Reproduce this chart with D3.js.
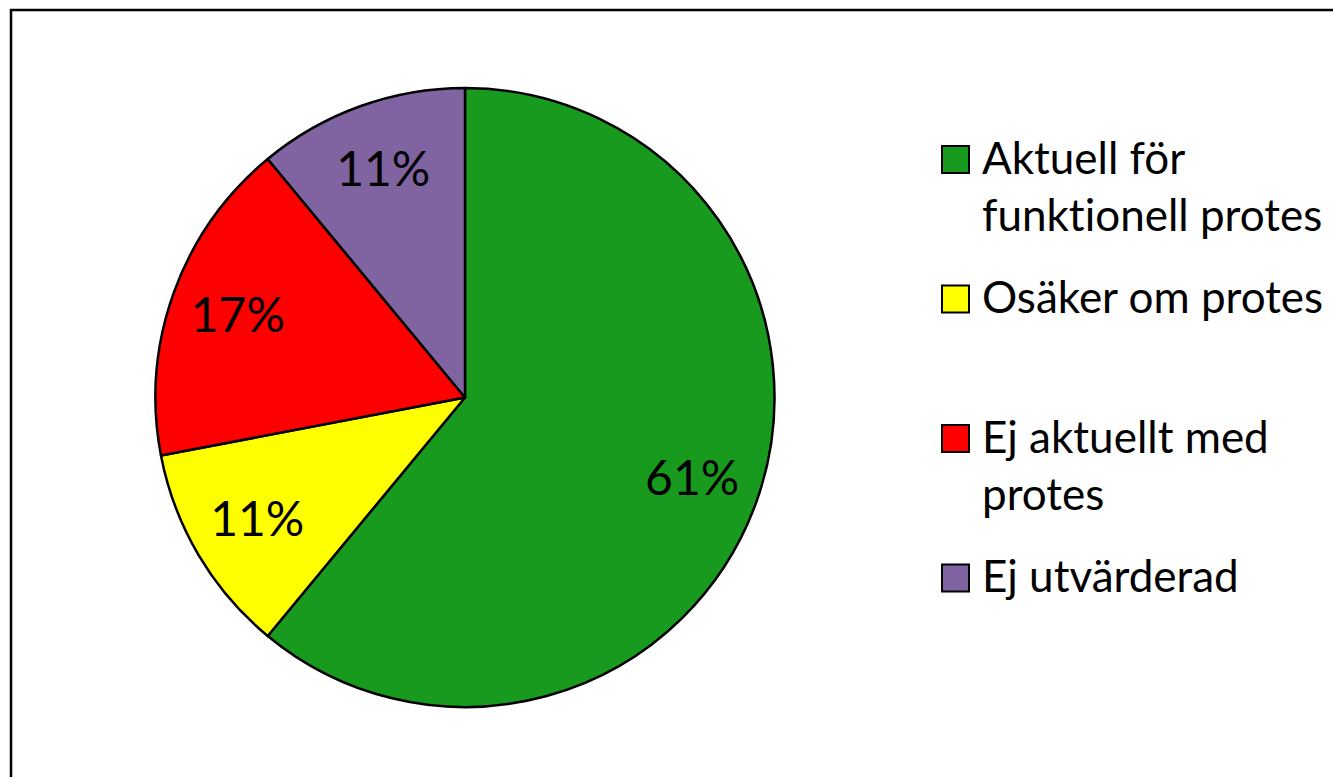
<!DOCTYPE html>
<html>
<head>
<meta charset="utf-8">
<script src="https://cdn.jsdelivr.net/npm/d3@7"></script>
<style>
  body { margin: 0; background: #fff; }
  text { font-family: Lato, "Open Sans", sans-serif; fill: #000; font-variant-ligatures: none; }
</style>
</head>
<body>
<div id="chart"></div>
<script>
var w = 1333;
var h = 777;

// data
var categories = ["Aktuell för funktionell protes", "Osäker om protes", "Ej aktuellt med protes", "Ej utvärderad"];
var legendLines = [["Aktuell för", "funktionell protes"], ["Osäker om protes"], ["Ej aktuellt med", "protes"], ["Ej utvärderad"]];
var values = [61, 11, 17, 11];
var colors = ["#189a1e", "#ffff00", "#ff0000", "#8064a2"];

var cx = 465, cy = 397.5, radius = 309.5;

var svg = d3.select("#chart")
    .append("svg")
    .attr("width", w)
    .attr("height", h);

// chart frame
svg.append("rect")
    .attr("x", 11)
    .attr("y", 10)
    .attr("width", w + 20)
    .attr("height", h + 20)
    .attr("fill", "#fff")
    .attr("stroke", "#000")
    .attr("stroke-width", 2.5);

var pie = d3.pie().sort(null).value(function (d) { return d; });
var arcs = pie(values);

var arc = d3.arc().innerRadius(0).outerRadius(radius);
//labels sit at ~79% of the radius
var labelArc = d3.arc().innerRadius(radius * 0.78).outerRadius(radius * 0.78);

var g = svg.append("g").attr("transform", "translate(" + cx + "," + cy + ")");

g.selectAll("path")
    .data(arcs)
    .enter()
    .append("path")
    .attr("d", arc)
    .attr("fill", function (d, i) { return colors[i]; })
    .attr("stroke", "#000")
    .attr("stroke-width", 2.5)
    .attr("stroke-linejoin", "round");

var total = d3.sum(values);
g.selectAll(".lbl")
    .data(arcs)
    .enter()
    .append("text")
    .attr("class", "lbl")
    .attr("transform", function (d) {
        var c = labelArc.centroid(d);
        return "translate(" + c[0] + "," + c[1] + ")";
    })
    .attr("text-anchor", "middle")
    .attr("dy", "0.33em")
    .style("font-size", "48px")
    .text(function (d) { return Math.round(d.value / total * 100) + "%"; });

// legend
var legendY = d3.scaleLinear().domain([0, 3]).range([159.5, 578]);
var legend = svg.selectAll(".legend")
    .data(categories)
    .enter()
    .append("g")
    .attr("class", "legend")
    .attr("transform", function (d, i) { return "translate(942," + legendY(i) + ")"; });

legend.append("rect")
    .attr("x", 0)
    .attr("y", -13.5)
    .attr("width", 27)
    .attr("height", 27)
    .attr("fill", function (d, i) { return colors[i]; })
    .attr("stroke", "#000")
    .attr("stroke-width", 2);

legend.append("text")
    .attr("x", 40)
    .attr("y", 14)
    .style("font-size", "44px")
    .selectAll("tspan")
    .data(function (d, i) { return legendLines[i]; })
    .enter()
    .append("tspan")
    .attr("x", 40)
    .attr("dy", function (d, j) { return j === 0 ? 0 : 57.5; })
    .text(function (d) { return d; });
</script>
</body>
</html>
